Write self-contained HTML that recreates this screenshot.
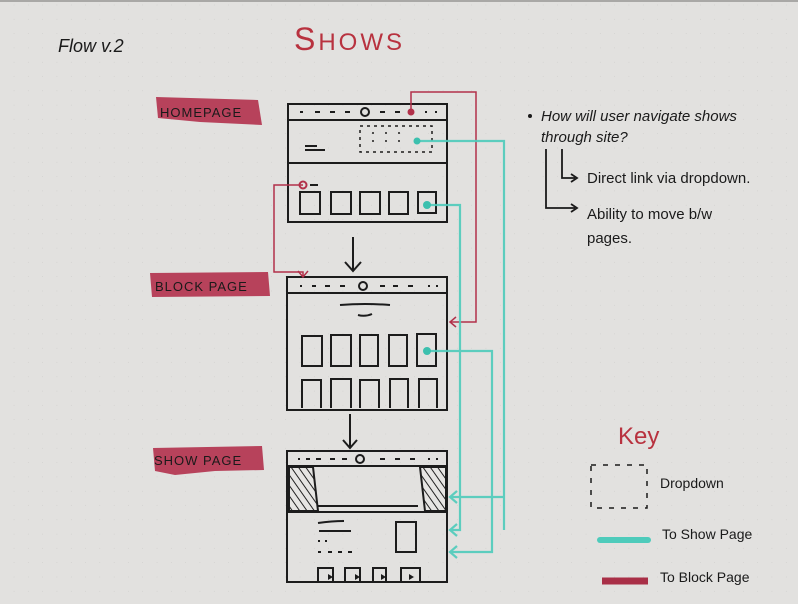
<!DOCTYPE html>
<html><head><meta charset="utf-8"><style>
html,body{margin:0;padding:0;background:#e2e1df;}
svg{display:block}
text{font-family:"Liberation Sans",sans-serif;}
</style></head><body>
<svg width="798" height="604" viewBox="0 0 798 604" xmlns="http://www.w3.org/2000/svg">
<defs>
<pattern id="d" x="0" y="-9" width="14.3" height="14.3" patternUnits="userSpaceOnUse">
<circle cx="14.5" cy="14.3" r="0.8" fill="#bdbcba"/></pattern>
<pattern id="h" width="6" height="6" patternUnits="userSpaceOnUse" patternTransform="rotate(-35)">
<rect width="6" height="6" fill="#e6e5e3"/><line x1="0" y1="0" x2="0" y2="6" stroke="#222" stroke-width="2"/></pattern>
</defs>
<rect width="798" height="604" fill="#e2e1df"/>
<rect width="798" height="604" fill="url(#d)"/>
<rect width="798" height="2" fill="#a9a8a6"/>

<text x="58" y="52" font-size="18" font-style="italic" fill="#1a1a1a" font-weight="300">Flow v.2</text>
<text x="294" y="50" font-size="32" fill="#b8323f" letter-spacing="3" font-weight="300">S<tspan font-size="24">HOWS</tspan></text>

<path d="M156 97 L258 100 L262 125 L200 122 L158 118 Z" fill="#b2314d" opacity="0.9"/>
<text x="160" y="117" font-size="13" fill="#1a1a1a" letter-spacing="1">HOMEPAGE</text>
<path d="M150 273 L268 272 L270 296 L152 297 Z" fill="#b2314d" opacity="0.9"/>
<text x="155" y="291" font-size="13" fill="#1a1a1a" letter-spacing="1">BLOCK PAGE</text>
<path d="M153 448 L262 446 L264 470 L215 471 L175 475 L155 471 Z" fill="#b2314d" opacity="0.9"/>
<text x="154" y="465" font-size="13" fill="#1a1a1a" letter-spacing="1">SHOW PAGE</text>

<g fill="none" stroke="#1c1c1c" stroke-width="2">
<rect x="288" y="104" width="159" height="118"/>
<line x1="288" y1="120" x2="447" y2="120"/>
<line x1="288" y1="163" x2="447" y2="163"/>
<circle cx="365" cy="112" r="4"/>
<path d="M300 112h3M315 112h5M330 112h5M345 112h5M380 112h5M395 112h5M425 112h2M435 112h2" />
<path d="M305 146h12M305 150h20"/>
<rect x="360" y="126" width="72" height="26" stroke-dasharray="3 4" stroke-width="1.5"/>
<path d="M373 132v2M373 140v2M386 132v2M386 140v2M399 132v2M399 140v2" stroke-width="1.5"/>
<line x1="310" y1="185" x2="318" y2="185"/>
<rect x="300" y="192" width="20" height="22"/><rect x="331" y="192" width="20" height="22"/>
<rect x="360" y="192" width="20" height="22"/><rect x="389" y="192" width="19" height="22"/>
<rect x="418" y="192" width="18" height="21"/>
<line x1="353" y1="237" x2="353" y2="270"/><path d="M345 262 L353 271 L361 262"/>
<rect x="287" y="277" width="160" height="133"/>
<line x1="287" y1="293" x2="447" y2="293"/>
<circle cx="363" cy="286" r="4"/>
<path d="M300 286h2M312 286h4M325 286h5M340 286h5M380 286h5M393 286h5M408 286h5M428 286h2M436 286h2"/>
<path d="M340 305 Q365 303 390 305M358 315 Q365 317 372 314"/>
<rect x="302" y="336" width="20" height="30"/><rect x="331" y="335" width="20" height="31"/>
<rect x="360" y="335" width="18" height="31"/><rect x="389" y="335" width="18" height="31"/>
<rect x="417" y="334" width="19" height="32"/>
<path d="M302 408V380h19v28M331 408V379h20v29M360 408V380h19v28M390 408V379h18v29M419 408V379h18v29"/>
<line x1="350" y1="414" x2="350" y2="447"/><path d="M343 440 L350 448 L357 440"/>
<rect x="287" y="451" width="160" height="131"/>
<line x1="287" y1="466" x2="447" y2="466"/>
<line x1="287" y1="512" x2="447" y2="512"/>
<circle cx="360" cy="459" r="4"/>
<path d="M298 459h2M306 459h4M316 459h5M330 459h5M342 459h5M380 459h5M395 459h5M410 459h5M428 459h2M436 459h2"/>
<path d="M318 506h100"/>
<path d="M318 552h3M328 552h4M338 552h4M348 552h4M318 541h2M325 541h2"/>
<path d="M318 523 Q332 521 344 521M319 531h32" />
<rect x="396" y="522" width="20" height="30"/>
<path d="M318 582V568h15v14M345 582V568h15v14M373 582V568h13v14M401 582V568h19v14"/>
</g>
<path d="M289 467 L313 467 L318 511 L289 511 Z" fill="url(#h)" stroke="#1c1c1c" stroke-width="2"/>
<path d="M420 467 L446 467 L446 511 L425 511 Z" fill="url(#h)" stroke="#1c1c1c" stroke-width="2"/>
<g fill="#1c1c1c"><path d="M328 574l5 3-5 3z M355 574l5 3-5 3z M381 574l5 3-5 3z M409 574l5 3-5 3z"/></g>

<g fill="none" stroke="#b2314a" stroke-width="1.5">
<path d="M411 112 V92 H476 V322 H450"/><path d="M456 317 L450 322 L456 327"/>
<path d="M303 185 H274 V272 H303 V277"/><path d="M298 271 L303 277 L308 271"/>
</g>
<circle cx="411" cy="112" r="3.5" fill="#b2314a"/>
<circle cx="303" cy="185" r="3.5" fill="none" stroke="#b2314a" stroke-width="2"/>

<g fill="none" stroke="#4ecbbb" stroke-width="2.2" opacity="0.9">
<path d="M417 141 H504 V530"/>
<path d="M504 497 H450"/><path d="M457 491 L450 497 L457 503"/>
<path d="M427 205 H460 V530 H450"/><path d="M457 524 L450 530 L457 536"/>
<path d="M427 351 H492 V552 H450"/><path d="M457 546 L450 552 L457 558"/>
</g>
<circle cx="417" cy="141" r="3.5" fill="#3cc0ae"/>
<circle cx="427" cy="205" r="4" fill="#3cc0ae"/>
<circle cx="427" cy="351" r="4" fill="#3cc0ae"/>

<g font-size="15" fill="#1a1a1a" font-style="italic">
<circle cx="530" cy="116" r="2" fill="#1a1a1a"/>
<text x="541" y="121">How will user navigate shows</text>
<text x="541" y="142">through site?</text>
<text x="587" y="183" font-style="normal">Direct link via dropdown.</text>
<text x="587" y="219" font-style="normal">Ability to move b/w</text>
<text x="587" y="243" font-style="normal">pages.</text>
</g>
<g fill="none" stroke="#1a1a1a" stroke-width="1.8">
<path d="M562 149 V178 H575"/><path d="M571 174 L577 178 L571 182"/>
<path d="M546 149 V208 H575"/><path d="M571 204 L577 208 L571 212"/>
</g>

<text x="618" y="444" font-size="24" fill="#b8323f">Key</text>
<rect x="591" y="465" width="56" height="43" fill="none" stroke="#1a1a1a" stroke-width="1.5" stroke-dasharray="5 7"/>
<text x="660" y="488" font-size="14" fill="#1a1a1a">Dropdown</text>
<path d="M600 540 H648" stroke="#4ecbbb" stroke-width="6" stroke-linecap="round"/>
<text x="662" y="539" font-size="14" fill="#1a1a1a">To Show Page</text>
<path d="M602 581 H648" stroke="#a92f47" stroke-width="7"/>
<text x="660" y="582" font-size="14" fill="#1a1a1a">To Block Page</text>
</svg>
</body></html>
